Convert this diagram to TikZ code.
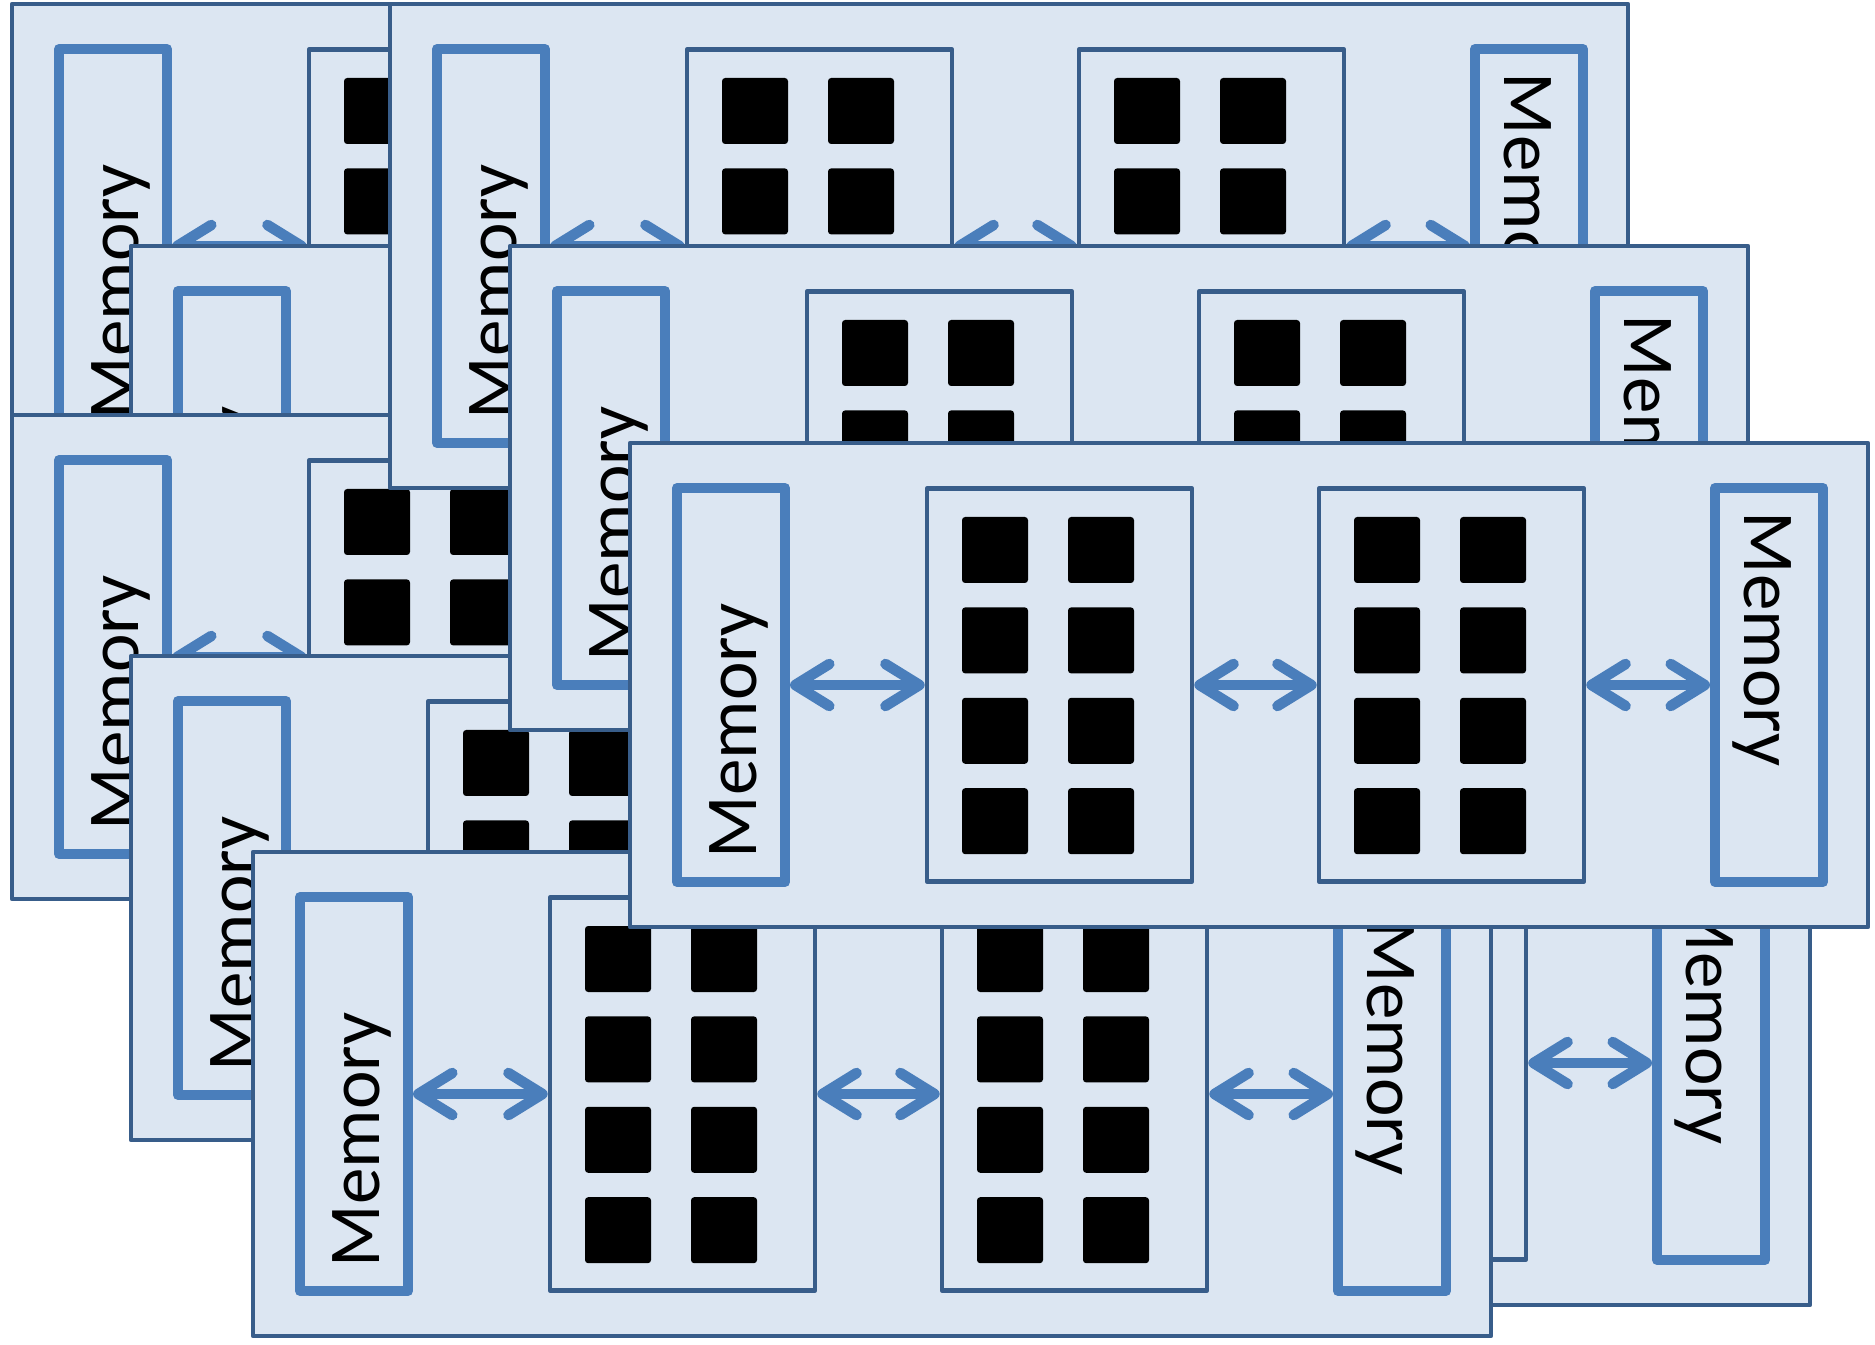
\documentclass[tikz,border=0pt]{standalone}
\usepackage{fontspec}
\setmainfont{Carlito}
\usetikzlibrary{arrows.meta}
\definecolor{boardfill}{HTML}{DCE6F2}
\definecolor{boardline}{HTML}{385D8A}
\definecolor{memline}{HTML}{4A7EBB}
\tikzset{
  board/.style={draw=boardline, fill=boardfill, line width=1.3pt, line join=round,
    minimum width=123.8mm, minimum height=48.4mm, inner sep=0pt, outer sep=0pt},
  mem/.style={draw=memline, fill=boardfill, line width=2.85pt, line join=round,
    minimum width=10.8mm, minimum height=39.4mm, inner sep=0pt},
  chip/.style={draw=boardline, fill=boardfill, line width=1.3pt, line join=round,
    minimum width=26.5mm, minimum height=39.3mm, inner sep=0pt},
  core/.style={fill=black, rounded corners=0.9pt},
  memtext/.style={inner sep=0pt, anchor=base west, text=black,
    font=\fontsize{20.8pt}{24pt}\selectfont},
  bus/.style={draw=memline, line width=3pt,
    {Straight Barb[length=3.4mm,width=4.2mm,round]}-{Straight Barb[length=3.4mm,width=4.2mm,round]}},
  server/.pic={
    \node[board] (-board) at (619,242) {};
    \node[mem] (-mem1) at (101,242) {};
    \node[mem] (-mem2) at (1139,242) {};
    \node[chip] (-chip1) at (429.5,242) {};
    \node[chip] (-chip2) at (821.5,242) {};
    \foreach \cx in {332,438,724,830}
      \foreach \cy in {74,164.4,254.8,345.2}
        \fill[core] (\cx,\cy) rectangle ++(66,66);
    \node[memtext, rotate=90] (-txt1) at (126,416) {Memory};
    \node[memtext, rotate=-90] (-txt2) at (1114,68) {Memory};
    \draw[bus] (-mem1.east) -- (-chip1.west);
    \draw[bus] (-chip1.east) -- (-chip2.west);
    \draw[bus] (-chip2.east) -- (-mem2.west);
  }
}
\begin{document}
\begin{tikzpicture}[x=0.1mm, y=-0.1mm]
  \useasboundingbox (0,0) rectangle (1875,1345);
  % boards from the back of the stack to the front
  \pic (A) at (12,4) {server};
  \pic (C) at (131,246) {server};
  \pic (E) at (12,415) {server};
  \pic (X) at (572,821) {server};
  \pic (B) at (390,4) {server};
  \pic (G) at (131,656) {server};
  \pic (D) at (510,246) {server};
  \pic (H) at (253,852) {server};
  \pic (F) at (630,443) {server};
\end{tikzpicture}
\end{document}
